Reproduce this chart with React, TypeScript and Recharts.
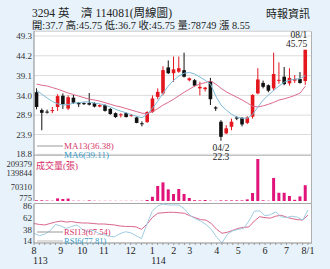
import { ComposedChart, Bar, Line, XAxis, YAxis, CartesianGrid, ReferenceDot } from "recharts"

// weekly candles, 113/08 .. 114/08 (month/week-of-month)
const weeks = [
  "113/08/1", "113/08/2", "113/08/3", "113/08/4", "113/08/5",
  "113/09/1", "113/09/2", "113/09/3", "113/09/4",
  "113/10/1", "113/10/2", "113/10/3", "113/10/4",
  "113/11/1", "113/11/2", "113/11/3", "113/11/4", "113/11/5",
  "113/12/1", "113/12/2", "113/12/3", "113/12/4",
  "114/01/1", "114/01/2", "114/01/3", "114/01/4",
  "114/02/1", "114/02/2", "114/02/3",
  "114/03/1", "114/03/2", "114/03/3", "114/03/4", "114/03/5",
  "114/04/1", "114/04/2", "114/04/3", "114/04/4",
  "114/05/1", "114/05/2", "114/05/3", "114/05/4", "114/05/5",
  "114/06/1", "114/06/2", "114/06/3", "114/06/4",
  "114/07/1", "114/07/2", "114/07/3", "114/07/4",
  "114/08/1",
]

const opens = [
  34.8, 30.2, 29.8, 30.1, 31.0, 33.9, 30.6, 33.4, 32.1, 32.0,
  32.0, 32.0, 31.1, 31.5, 30.5, 29.4, 28.9, 29.4, 28.8, 28.3,
  26.8, 27.1, 29.7, 33.6, 34.5, 41.2, 39.7, 40.1, 40.5, 37.9,
  37.9, 35.8, 35.6, 37.7, 30.9, 27.2, 24.2, 25.9, 28.3, 28.2,
  26.9, 28.5, 34.5, 37.2, 36.6, 35.8, 37.8, 38.8, 37.1, 37.8,
  38.2, 37.7,
]
const highs = [
  35.8, 30.6, 30.3, 31.0, 34.3, 34.5, 34.0, 34.1, 32.3, 32.2,
  34.6, 32.2, 31.7, 31.7, 30.7, 29.6, 29.4, 29.6, 29.2, 28.5,
  27.3, 29.9, 34.0, 35.8, 41.5, 43.0, 44.0, 44.0, 45.0, 38.6,
  38.2, 37.5, 36.2, 38.5, 31.2, 27.6, 26.3, 28.0, 28.6, 28.4,
  28.6, 34.3, 41.0, 37.8, 36.8, 45.0, 42.5, 41.3, 41.0, 39.2,
  40.0, 45.75,
]
const lows = [
  30.4, 25.0, 29.3, 29.4, 30.0, 30.5, 30.2, 31.8, 31.0, 31.5,
  31.4, 30.9, 30.9, 29.8, 29.0, 28.2, 28.3, 28.3, 28.5, 26.8,
  26.0, 26.9, 29.5, 33.0, 34.0, 39.5, 37.5, 39.8, 38.6, 37.6,
  36.3, 34.0, 35.0, 31.5, 30.0, 22.3, 24.0, 25.0, 27.6, 26.0,
  26.6, 28.0, 34.3, 35.8, 34.8, 35.2, 37.0, 36.6, 36.5, 37.2,
  37.0, 36.7,
]
const closes = [
  31.0, 29.5, 29.7, 30.2, 33.8, 31.7, 33.5, 32.1, 31.7, 31.8,
  31.6, 31.1, 31.5, 30.0, 29.2, 28.4, 29.1, 28.4, 28.9, 26.9,
  26.7, 29.7, 33.2, 34.9, 40.5, 39.7, 40.7, 41.0, 38.8, 38.4,
  36.5, 36.2, 36.0, 33.0, 30.6, 23.3, 25.5, 27.2, 28.0, 26.5,
  28.3, 34.1, 38.1, 36.2, 35.2, 39.5, 38.0, 36.9, 38.5, 38.2,
  37.2, 45.75,
]
const volumes = [
  3500, 3500, 2500, 1500, 13000, 10000, 12000, 1500, 1500, 800,
  3000, 1200, 800, 1000, 900, 800, 775, 900, 1000, 900,
  1200, 5000, 21000, 75000, 93000, 58000, 35000, 60000, 35000, 15000,
  4000, 3000, 5000, 1500, 1000, 3000, 3000, 3000, 3000, 3000,
  8000, 40000, 209379, 3500, 1500, 115000, 41000, 41000, 25000, 6000,
  23000, 78749,
]
const ma13 = [
  36.9, 36.6, 36.4, 36.0, 35.6, 35.1, 34.6, 34.2, 33.8, 33.4,
  33.0, 32.8, 32.5, 32.1, 31.7, 31.3, 31.0, 30.6, 30.2, 29.8,
  29.4, 29.3, 29.8, 30.6, 31.5, 32.2, 33.0, 33.9, 34.8, 35.6,
  36.4, 36.9, 37.3, 37.7, 36.9, 35.8, 34.9, 34.2, 33.5, 32.8,
  32.0, 31.2, 31.0, 31.3, 31.7, 32.2, 32.8, 33.1, 33.5, 34.0,
  34.6, 36.38,
]
const ma6 = [
  35.3, 34.3, 33.3, 32.4, 31.8, 31.5, 31.6, 32.0, 32.1, 32.3,
  32.3, 32.0, 31.8, 31.5, 31.0, 30.4, 29.9, 29.5, 29.0, 28.6,
  28.2, 29.2, 30.7, 32.5, 34.6, 36.4, 37.9, 39.0, 39.7, 39.9,
  39.5, 38.7, 37.9, 36.9, 33.8, 31.5, 30.2, 29.1, 28.4, 28.1,
  28.1, 29.1, 31.0, 32.8, 34.1, 35.3, 36.4, 37.4, 37.9, 38.2,
  38.3, 39.11,
]
const rsi13 = [
  50, 48, 47, 50, 53, 55, 53, 54, 52, 51,
  51, 50, 49, 49, 48, 47, 45, 44, 44, 43,
  38, 48, 62, 71, 72, 73, 73, 72, 71, 66,
  62, 58, 57, 50, 38, 30, 32, 36, 40, 42,
  43, 55, 64, 62, 61, 65, 67, 63, 60, 58,
  57, 67.54,
]
const rsi6 = [
  30, 25, 28, 35, 48, 45, 40, 44, 47, 38,
  33, 36, 30, 27, 24, 23, 29, 33, 31, 25,
  19, 48, 75, 86, 90, 88, 88, 88, 80, 67,
  60, 55, 48, 38, 22, 10, 28, 35, 38, 40,
  55, 75, 76, 66, 68, 74, 64, 62, 65, 63,
  57, 77.81,
]

const priceTicks = [18.8, 23.9, 28.9, 34.0, 39.1, 44.2, 49.3]
const volTicks = [775, 70310, 139844, 209379]
const rsiTicks = [14, 38, 62, 86]

const data = weeks.map((week, i) => ({
  week,
  open: opens[i],
  high: highs[i],
  low: lows[i],
  close: closes[i],
  range: [lows[i], highs[i]],
  vol: volumes[i],
  ma13: ma13[i],
  ma6: ma6[i],
  rsi13: rsi13[i],
  rsi6: rsi6[i],
}))

const W = 330
const H = 269
const serif = "'Liberation Serif', 'DejaVu Serif', 'Noto Sans CJK TC', serif"
const UP = "#e4161e"
const DOWN = "#111"
const VOL = "#e0147a"
const PINK = "#dc6a8c"
const BLUE = "#7dbcd9"
const xPad = { left: 0, right: 3 }

const Candle = (props: any) => {
  const { x, y, width, height, payload } = props
  const top = Math.min(y, y + height)
  const h = Math.abs(height)
  const { open, close, high, low } = payload
  const span = high - low
  const py = (v: number) => (span === 0 ? top : top + ((high - v) / span) * h)
  const cx = x + width / 2
  const color = close >= open ? UP : DOWN
  const bTop = py(Math.max(open, close))
  const bBot = py(Math.min(open, close))
  const bw = 3.6
  return (
    <g>
      <line x1={cx} x2={cx} y1={top} y2={top + h} stroke={color} strokeWidth={1} />
      <rect x={cx - bw / 2} y={bTop} width={bw} height={Math.max(bBot - bTop, 1)} fill={color} />
    </g>
  )
}

const VolTick = ({ x, y, payload }: any) => (
  <text x={x} y={Math.min(Math.max(y, 163.5), 197.5)} dy="0.355em" textAnchor="end" fontSize={8.5} fill="#333" fontFamily={serif}>
    {payload.value}
  </text>
)

const WeekTick = ({ x, y, payload, index }: any) => {
  const [yr, mm, wk] = String(payload.value).split("/")
  if (wk !== "1") return <g />
  const last = index === weeks.length - 1
  const txt = last ? `${+mm}/${wk}` : String(+mm)
  const showYear = index === 0 || mm === "01"
  return (
    <g>
      <text x={x} y={y} dy={8.5} textAnchor="middle" fontSize={10} fill="#222" fontFamily={serif}>{txt}</text>
      {showYear && (
        <text x={x - 1} y={y} dy={19} textAnchor="start" fontSize={10} fill="#222" fontFamily={serif}>{yr}</text>
      )}
    </g>
  )
}

const HighLabel = (props: any) => {
  const { x, y } = props.viewBox
  return (
    <g fontFamily={serif} fontSize={9.5} fill="#222" textAnchor="end">
      <text x={x + 2} y={y - 11.5}>{weeks[weeks.length - 1].slice(4)}</text>
      <text x={x + 2} y={y - 3}>{highs[highs.length - 1]}</text>
    </g>
  )
}

const LowLabel = (props: any) => {
  const { x, y } = props.viewBox
  return (
    <g fontFamily={serif} fontSize={9.5} fill="#222" textAnchor="middle">
      <text x={x} y={y + 10.5}>{weeks[35].slice(4)}</text>
      <text x={x} y={y + 19.5}>{lows[35]}</text>
    </g>
  )
}

const abs = { position: "absolute" as const, left: 0, top: 0 }

export default function App() {
  return (
    <div style={{ position: "absolute", left: 0, top: 0, width: W, height: H, background: "#e7f2fb", overflow: "hidden" }}>
      <div style={{ position: "absolute", left: 34, top: 31, width: 277, height: 212, background: "#fff", borderRight: "1px solid #b0b0b0", borderTop: "1px solid #d8d8d8" }} />
      <div style={{ position: "absolute", left: 34, top: 155, width: 277, height: 1, background: "#a8a8a8" }} />
      <div style={{ position: "absolute", left: 34, top: 203, width: 277, height: 1, background: "#a8a8a8" }} />

      {/* price panel */}
      <div style={abs}>
        <ComposedChart width={W} height={H} data={data} margin={{ top: 31, right: 19, bottom: 114, left: 0 }}>
          <CartesianGrid horizontal vertical={false} stroke="#dcdcdc" />
          <XAxis dataKey="week" type="category" hide padding={xPad} />
          <YAxis
            domain={[18.62, 50.59]}
            ticks={priceTicks}
            interval={0}
            width={34}
            tickSize={0}
            tickMargin={2}
            axisLine={{ stroke: "#888" }}
            tickLine={false}
            tick={{ fontSize: 9, fill: "#333", fontFamily: serif }}
            tickFormatter={(v: number) => v.toFixed(1)}
          />
          <Line dataKey="ma13" stroke={PINK} strokeWidth={1} dot={false} isAnimationActive={false} />
          <Line dataKey="ma6" stroke={BLUE} strokeWidth={1} dot={false} isAnimationActive={false} />
          <Bar dataKey="range" shape={<Candle />} isAnimationActive={false} />
          <ReferenceDot x={weeks[weeks.length - 1]} y={highs[highs.length - 1]} r={0} ifOverflow="visible" label={<HighLabel />} />
          <ReferenceDot x={weeks[35]} y={lows[35]} r={0} ifOverflow="visible" label={<LowLabel />} />
        </ComposedChart>
      </div>

      {/* volume panel */}
      <div style={abs}>
        <ComposedChart width={W} height={H} data={data} margin={{ top: 155, right: 19, bottom: 68, left: 0 }}>
          <XAxis dataKey="week" type="category" hide padding={xPad} />
          <YAxis
            domain={[0, 229320]}
            ticks={volTicks}
            interval={0}
            width={34}
            tickSize={0}
            tickMargin={2}
            axisLine={{ stroke: "#888" }}
            tickLine={false}
            tick={<VolTick />}
          />
          <Bar dataKey="vol" fill={VOL} barSize={3} isAnimationActive={false} />
        </ComposedChart>
      </div>

      {/* RSI panel */}
      <div style={abs}>
        <ComposedChart width={W} height={H} data={data} margin={{ top: 204, right: 19, bottom: 0, left: 0 }}>
          <XAxis
            dataKey="week"
            type="category"
            padding={xPad}
            height={26}
            interval={0}
            tickSize={2}
            tickMargin={0}
            axisLine={{ stroke: "#888" }}
            tickLine={{ stroke: "#999" }}
            tick={<WeekTick />}
          />
          <YAxis
            domain={[10, 90]}
            ticks={rsiTicks}
            interval={0}
            width={34}
            tickSize={0}
            tickMargin={2}
            axisLine={{ stroke: "#888" }}
            tickLine={false}
            tick={{ fontSize: 9, fill: "#333", fontFamily: serif }}
          />
          <Line dataKey="rsi13" stroke="#d9668c" strokeWidth={1} dot={false} isAnimationActive={false} />
          <Line dataKey="rsi6" stroke="#9fcde2" strokeWidth={1} dot={false} isAnimationActive={false} />
        </ComposedChart>
      </div>

      {/* titles and legends */}
      <svg width={W} height={H} style={{ ...abs, pointerEvents: "none" }} fontFamily={serif}>
        <text x={32} y={17} fontSize={11.5} fill="#222" textLength={140} lengthAdjust="spacingAndGlyphs">3294 英　濟 114081(周線圖)</text>
        <text x={32} y={28.5} fontSize={10.5} fill="#222" textLength={218} lengthAdjust="spacingAndGlyphs">開:37.7 高:45.75 低:36.7 收:45.75 量:78749 漲 8.55</text>
        <text x={310} y={18} fontSize={11} fill="#222" textAnchor="end">時報資訊</text>

        <line x1={37} x2={63} y1={146} y2={146} stroke="#999" />
        <text x={64} y={149} fontSize={9} fill="#d6386a">MA13(36.38)</text>
        <line x1={37} x2={63} y1={155} y2={155} stroke="#bbb" />
        <text x={64} y={158} fontSize={9} fill="#3a9cc6">MA6(39.11)</text>

        <text x={36} y={168.5} fontSize={9} fill="#d6306a">成交量(張)</text>

        <line x1={37} x2={63} y1={232} y2={232} stroke="#999" />
        <text x={64} y={235} fontSize={8.5} fill="#d6386a">RSI13(67.54)</text>
        <line x1={37} x2={63} y1={241} y2={241} stroke="#bbb" />
        <text x={64} y={244} fontSize={8.5} fill="#3a9cc6">RSI6(77.81)</text>
      </svg>
    </div>
  )
}
